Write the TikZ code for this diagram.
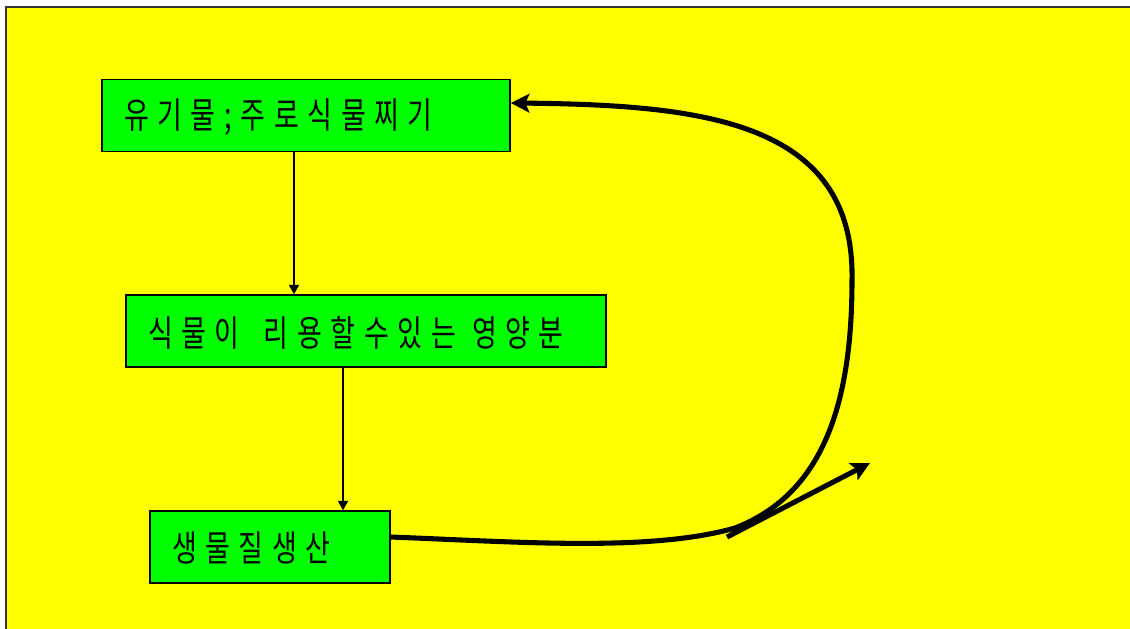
\documentclass[tikz,border=0pt]{standalone}
\usepackage{fontspec}
\usetikzlibrary{arrows.meta,calc}
\newfontfamily\kr{Noto Sans CJK KR}[FakeStretch=0.75,LetterSpace=24]
\definecolor{bgyellow}{RGB}{255,255,0}
\definecolor{boxgreen}{RGB}{0,255,0}
\tikzset{
  box/.style={draw=black, line width=1.1pt, fill=boxgreen, anchor=center,
    minimum height=54pt, inner xsep=16.5pt, inner ysep=0pt, align=left,
    font=\kr\fontsize{27pt}{31pt}\selectfont, text depth=0pt},
  thin/.style={line width=1.1pt, -{Triangle[length=7pt,width=7.5pt]}},
  thick/.style={line width=3.8pt, -{Stealth[length=14pt,width=14pt,inset=3pt]}}
}
\begin{document}
\begin{tikzpicture}[x=0.75pt,y=-0.75pt]
\useasboundingbox (0,0) rectangle (1130,628);
\clip (0,0) rectangle (1130,628);
\draw[fill=bgyellow, draw=black!80, line width=1.5pt] (6,7) rectangle (1145,645);
\node[box, text width=273pt] (b1) at (306,115.5) {\raisebox{3pt}{유기물;주로식물찌기}};
\node[box, text width=327pt] (b2) at (366,331) {식물이\hspace{18pt}리용할수있는\hspace{12pt}영양분};
\node[box, text width=147pt] (b3) at (270,547) {생물질생산};
\draw[thin] (b1.south -| 294,0) -- (b2.north -| 294,0);
\draw[thin] (b2.south -| 343,0) -- (b3.north -| 343,0);
\coordinate (s1) at (727,537);
\coordinate (s2) at (870,463);
\draw[thick] ([yshift=7.5pt]b3.east) .. controls (520,542) and (650,552) .. (735,528)
  .. controls (820,495) and (852,410) .. (852,280)
  .. controls (855,120) and (700,105) .. ([yshift=9.4pt]b1.east);
\draw[thick] (s1) -- (s2);
\end{tikzpicture}
\end{document}
